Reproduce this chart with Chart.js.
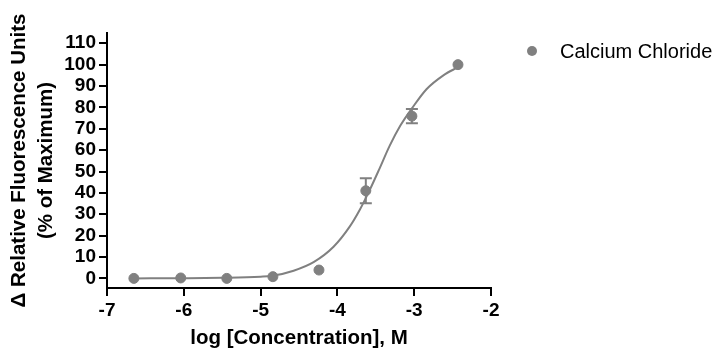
<!DOCTYPE html>
<html>
<head>
<meta charset="utf-8">
<script src="https://cdn.jsdelivr.net/npm/chart.js@4.4.1/dist/chart.umd.min.js"></script>
<style>
  html, body { margin:0; padding:0; background:#fff; }
  #wrap { width:722px; height:351px; position:relative; }
</style>
</head>
<body>
<div id="wrap"><canvas id="chart"></canvas></div>
<script>
// ---------- data ----------
const seriesName = 'Calcium Chloride';
const logConc  = [-6.65, -6.04, -5.44, -4.84, -4.24, -3.63, -3.03, -2.43];
const response = [0.0, 0.2, 0.0, 0.8, 3.9, 41.0, 75.9, 100.0];
const sem      = [0, 0, 0, 0, 0, 5.9, 3.3, 0];

// fitted curve
const curveX = [-6.65, -6.0, -5.5, -5.0, -4.85, -4.57, -4.31, -4.05, -3.84, -3.71, -3.58, -3.45, -3.32, -3.18, -3.03, -2.84, -2.62, -2.43];
const curveY = [0.0, 0.1, 0.3, 0.8, 1.2, 3.6, 7.6, 14.8, 24.2, 32.0, 41.3, 51.5, 62.0, 71.5, 79.5, 88.5, 95.0, 98.8];

const xTicks = [-7, -6, -5, -4, -3, -2];
const yTicks = [0, 10, 20, 30, 40, 50, 60, 70, 80, 90, 100, 110];

const GREY = '#808080';
const FONT = 'Arial, "Liberation Sans", sans-serif';

// ---------- helpers ----------
const pts = (xs, ys) => xs.map((x, i) => ({ x, y: ys[i] }));

// error bars (mean ± SEM) with caps
const errorBars = {
  id: 'errorBars',
  afterDatasetsDraw(chart){
    const { ctx, scales:{ x, y } } = chart;
    ctx.save();
    ctx.strokeStyle = GREY; ctx.lineWidth = 2;
    logConc.forEach((lx, i) => {
      if (!sem[i]) return;
      const px = x.getPixelForValue(lx);
      const top = y.getPixelForValue(response[i] + sem[i]);
      const bot = y.getPixelForValue(response[i] - sem[i]);
      ctx.beginPath();
      ctx.moveTo(px, top); ctx.lineTo(px, bot);
      ctx.moveTo(px - 6, top); ctx.lineTo(px + 6, top);
      ctx.moveTo(px - 6, bot); ctx.lineTo(px + 6, bot);
      ctx.stroke();
    });
    ctx.restore();
  }
};

// legend off to the right, only the data series
const sideLegend = {
  id: 'sideLegend',
  afterDraw(chart){
    const { ctx } = chart;
    const ds = chart.data.datasets[0];
    ctx.save();
    ctx.fillStyle = ds.backgroundColor;
    ctx.beginPath(); ctx.arc(532, 51, 5, 0, Math.PI * 2); ctx.fill();
    ctx.fillStyle = '#000';
    ctx.font = '20px ' + FONT;
    ctx.textBaseline = 'middle';
    ctx.fillText(ds.label, 560, 52);
    ctx.restore();
  }
};

new Chart(document.getElementById('chart'), {
  type: 'scatter',
  data: {
    datasets: [
      { label: seriesName, data: pts(logConc, response), backgroundColor: GREY, borderColor: GREY,
        pointRadius: 5, pointHoverRadius: 5, showLine: false, order: 0 },
      { label: 'fit', data: pts(curveX, curveY), borderColor: GREY, borderWidth: 2,
        pointRadius: 0, showLine: true, cubicInterpolationMode: 'monotone', order: 1 }
    ]
  },
  options: {
    responsive: true, maintainAspectRatio: false, animation: false,
    layout: { padding: { top: 33, right: 231, left: 0, bottom: 0 } },
    plugins: { legend: { display: false }, tooltip: { enabled: false } },
    scales: {
      x: {
        type: 'linear', min: -7, max: -2,
        afterBuildTicks: s => { s.ticks = xTicks.map(v => ({ value: v })); },
        afterFit: s => { s.height = 63; },
        border: { display: true, color: '#000', width: 2 },
        grid: { drawOnChartArea: false, drawTicks: true, tickLength: 8, color: '#000', lineWidth: 2 },
        ticks: { color: '#000', font: { family: FONT, size: 19, weight: 'bold' }, padding: 3, maxRotation: 0, autoSkip: false },
        title: { display: true, text: 'log [Concentration], M', color: '#000',
                 font: { family: FONT, size: 20.5, weight: 'bold' }, padding: { top: 4, bottom: 0 } }
      },
      y: {
        type: 'linear', min: -4.5, max: 114.8,
        afterBuildTicks: s => { s.ticks = yTicks.map(v => ({ value: v })); },
        afterFit: s => { s.width = 107; },
        border: { display: true, color: '#000', width: 2 },
        grid: { drawOnChartArea: false, drawTicks: true, tickLength: 8, color: '#000', lineWidth: 2 },
        ticks: { color: '#000', font: { family: FONT, size: 19, weight: 'bold' }, padding: 3, autoSkip: false },
        title: { display: true, text: ['\u0394 Relative Fluorescence Units', '(% of Maximum)'], color: '#000',
                 font: { family: FONT, size: 20.5, weight: 'bold', lineHeight: 1.32 }, padding: { top: 6, bottom: 0 } }
      }
    }
  },
  plugins: [errorBars, sideLegend]
});
</script>
</body>
</html>
